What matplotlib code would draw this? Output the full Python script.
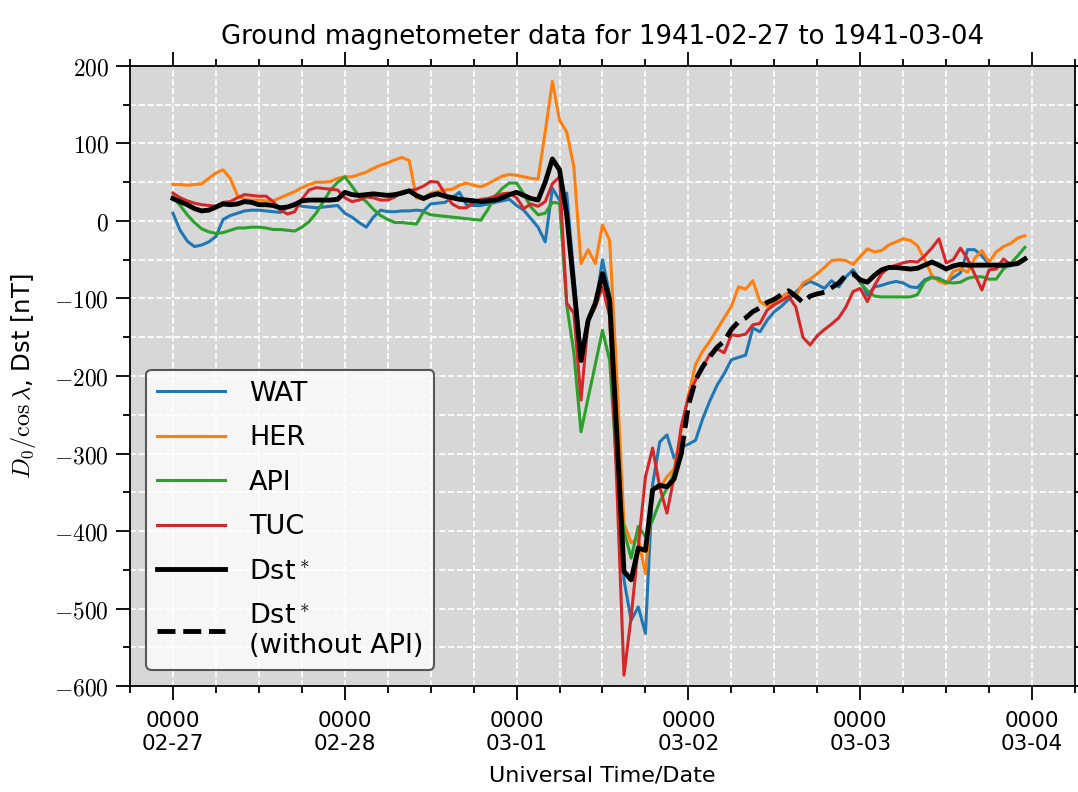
import matplotlib
matplotlib.use('Agg')
import matplotlib.pyplot as plt
import matplotlib.dates as mdates
from matplotlib.ticker import MultipleLocator, FuncFormatter
import numpy as np
import pandas as pd

nan = np.nan

# hourly values, 1941-02-27 00:00 .. 1941-03-03 23:00 (nT)
start = '1941-02-27 00:00'
n_hours = 120

wat = [10, -12, -26, -33, -31, -27, -20, 2, 7, 10,
       13, 14, 14, 13, 12, 11, 18, 23, 19, 18,
       17, 18, 19, 20, 10, 5, -2, -8, 5, 14,
       12, 12, 13, 13, 14, 13, 22, 23, 24, 30,
       37, 21, 20, 20, 22, 24, 26, 28, 20, 14,
       3, -8, -27, 42, 27, 36, -70, -175, -130, -110,
       -50, -95, -280, -463, -515, -498, -532, -340, -285, -276,
       -306, -292, -288, -283, -255, -232, -212, -197, -179, -176,
       -173, -138, -143, -128, -117, -110, -101, -92, -83, -78,
       -82, -87, -77, -85, -72, -63, -76, -96, -85, -83,
       -80, -78, -80, -85, -86, -76, -72, -74, -79, -73,
       -67, -37, -37, -45, -56, -58, -59, -58, -54, -48]

her = [47, 47, 46, 47, 48, 55, 62, 66, 55, 33,
       28, 27, 27, 26, 26, 30, 34, 38, 43, 47,
       50, 50, 51, 55, 57, 57, 60, 63, 68, 72,
       75, 79, 82, 78, 30, 28, 36, 38, 40, 41,
       46, 49, 46, 44, 48, 53, 58, 60, 59, 57,
       55, 54, 115, 180, 130, 115, 70, -55, -37, -55,
       -5, -25, -200, -390, -415, -410, -455, -345, -345, -330,
       -320, -270, -225, -185, -168, -155, -140, -125, -110, -85,
       -88, -77, -104, -110, -105, -98, -92, -97, -80, -75,
       -68, -60, -51, -50, -51, -56, -46, -36, -40, -38,
       -31, -27, -23, -25, -32, -50, -70, -78, -81, -65,
       -62, -66, -48, -38, -53, -40, -33, -29, -22, -19]

api = ([31, 20, 8, -2, -10, -14, -16, -15, -12, -9,
        -9, -8, -8, -9, -11, -11, -12, -13, -8, -1,
        10, 25, 40, 50, 57, 45, 32, 25, 15, 7,
        2, -2, -2, -3, -4, 12, 8, 7, 6, 5,
        4, 3, 2, 1, 15, 32, 42, 49, 49, 35,
        18, 8, 10, 24, 23, -108, -170, -272, -228, -185,
        -141, -180, -320, -400, -435, -394, -407, -386, -362, -345,
        -325, -304]
       + [nan] * 24
       + [-80, -90, -97, -98,
          -98, -98, -98, -98, -95, -78, -73, -75, -79, -80,
          -79, -74, -72, -72, -75, -75, -62, -55, -45, -34])

tuc = [36, 30, 26, 23, 21, 20, 19, 24, 25, 30,
       34, 33, 32, 32, 25, 14, 9, 12, 28, 40,
       43, 42, 41, 40, 30, 25, 27, 31, 30, 27,
       27, 31, 38, 39, 41, 45, 51, 50, 35, 22,
       17, 17, 24, 28, 29, 32, 35, 36, 30, 16,
       22, 19, 25, 48, 57, -106, -119, -231, -128, -111,
       -85, -123, -340, -586, -511, -420, -330, -293, -343, -377,
       -330, -265, -227, -205, -188, -172, -165, -170, -147, -148,
       -146, -134, -132, -115, -108, -103, -97, -111, -150, -160,
       -148, -140, -133, -125, -111, -91, -87, -104, -83, -68,
       -60, -57, -54, -52, -53, -45, -35, -23, -54, -50,
       -35, -49, -69, -89, -63, -62, -49, -56, -53, -49]

dst = ([29, 25, 21, 16, 13, 14, 18, 22, 21, 22,
        25, 24, 21, 21, 20, 17, 18, 21, 26, 27,
        27, 27, 27, 28, 37, 34, 33, 34, 35, 34,
        33, 34, 36, 39, 33, 29, 33, 35, 32, 30,
        28, 27, 26, 25, 26, 27, 30, 34, 37, 33,
        29, 27, 50, 80, 66, 8, -85, -180, -128, -106,
        -68, -102, -275, -452, -463, -422, -425, -347, -341, -343,
        -333, -300]
       + [nan] * 24
       + [-76, -79, -70, -63,
          -60, -60, -61, -62, -61, -57, -53, -57, -62, -58,
          -56, -57, -57, -57, -57, -57, -57, -56, -55, -49])

dst_noapi = ([nan] * 71
             + [-300, -238, -205, -188, -175, -163, -155, -140, -130, -125,
                -117, -112, -105, -101, -95, -90, -97, -105, -97, -94,
                -92, -86, -80, -70, -68, -76]
             + [nan] * 23)

plt.rcParams['mathtext.fontset'] = 'cm'
plt.rcParams['font.family'] = 'DejaVu Sans'

times = pd.date_range(start, periods=n_hours, freq='h')

fig = plt.figure(figsize=(10.78, 7.92), dpi=100)
ax = fig.add_axes([0.1206, 0.1338, 0.8766, 0.7829])
ax.set_facecolor('#d7d7d7')
ax.set_axisbelow(True)

ax.plot(times, wat, color='tab:blue', lw=2.2, label='WAT')
ax.plot(times, her, color='tab:orange', lw=2.2, label='HER')
ax.plot(times, api, color='tab:green', lw=2.2, label='API')
ax.plot(times, tuc, color='tab:red', lw=2.2, label='TUC')
ax.plot(times, dst, color='black', lw=3.5, label='Dst$^*$')
ax.plot(times, dst_noapi, color='black', lw=3.5, ls='--',
        label='Dst$^*$\n(without API)')

ax.set_xlim(pd.Timestamp('1941-02-26 18:00'), pd.Timestamp('1941-03-04 06:00'))
ax.set_ylim(-600, 200)

ax.xaxis.set_major_locator(mdates.DayLocator())
ax.xaxis.set_minor_locator(mdates.HourLocator(byhour=[6, 12, 18]))
ax.xaxis.set_major_formatter(mdates.DateFormatter('%H%M\n%m-%d'))
ax.yaxis.set_major_locator(MultipleLocator(100))
ax.yaxis.set_minor_locator(MultipleLocator(50))
ax.yaxis.set_major_formatter(FuncFormatter(lambda v, p: r'$%d$' % v))

ax.grid(which='both', color='white', ls='--', lw=1.2)
ax.tick_params(which='both', direction='out', top=True, right=True, width=1.3)
ax.tick_params(which='major', length=10, pad=5)
ax.tick_params(which='minor', length=5)
ax.tick_params(axis='x', which='major', labelsize=15.5, pad=8)
ax.tick_params(axis='y', labelsize=17)
for sp in ax.spines.values():
    sp.set_linewidth(1.3)

ax.set_title('Ground magnetometer data for 1941-02-27 to 1941-03-04',
             fontsize=18.7, pad=16)
ax.set_xlabel('Universal Time/Date', fontsize=16, labelpad=8)
ax.set_ylabel(r'$D_0/\cos\lambda$, Dst [nT]', fontsize=17.5, labelpad=12)

leg = ax.legend(loc='lower left', fontsize=19.5, handlelength=2.5,
                handletextpad=0.9, borderaxespad=0.6, labelspacing=0.68,
                framealpha=0.8, edgecolor='#333333', fancybox=True)
leg.get_frame().set_linewidth(1.5)

fig.savefig('out.png', dpi=100)
